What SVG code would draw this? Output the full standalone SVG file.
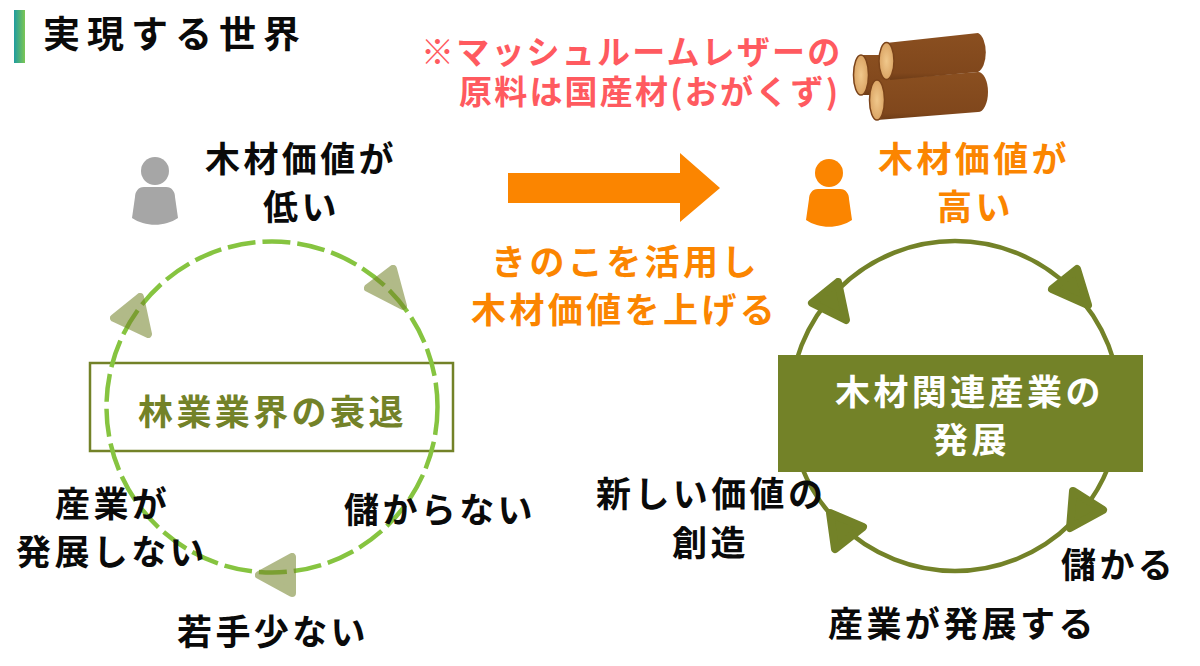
<svg xmlns="http://www.w3.org/2000/svg" width="1200" height="666" viewBox="0 0 1200 666">
<defs>
<linearGradient id="bar" x1="0" y1="0" x2="1" y2="0"><stop offset="0" stop-color="#1f9ca0"/><stop offset="1" stop-color="#7cc653"/></linearGradient>
<linearGradient id="bark" x1="0" y1="0" x2="0" y2="1"><stop offset="0" stop-color="#8a4f20"/><stop offset=".85" stop-color="#80471c"/><stop offset="1" stop-color="#6e3c17"/></linearGradient>
<radialGradient id="face"><stop offset="0" stop-color="#f0c88c"/><stop offset="1" stop-color="#dba565"/></radialGradient>
</defs>
<style>
text{font-family:"Noto Sans CJK JP","Noto Sans",sans-serif;font-weight:700;font-size:35px;letter-spacing:3.4px;fill:#0a0a0a}
.org{fill:#fb8500}.ol{fill:#738228}.wh{fill:#fff}.red{fill:#ff5a5f;letter-spacing:2.2px;font-size:33px}
.tl{stroke-linejoin:round;stroke-width:8;fill:#738228;stroke:#738228}
.tf{stroke-linejoin:round;stroke-width:8;fill:#738228;stroke:#738228;opacity:.55}
.log{fill:url(#bark)}
.end{fill:url(#face);stroke:#7a431a;stroke-width:1.500}
</style>
<rect width="1200" height="666" fill="#fff"/>
<g id="title-bar"><rect x="14" y="10" width="11" height="53" fill="url(#bar)"/></g>
<g id="title"><text x="43" y="48" style="font-size:37px;letter-spacing:7px">実現する世界</text></g>
<g id="note">
<text class="red" x="421" y="64">※マッシュルームレザーの</text>
<text class="red" x="459" y="104">原料は国産材(おがくず)</text>
</g>
<g id="logs">
<path class="log" d="M861 55 L900 55 L900 95 L861 95Z"/>
<ellipse class="end" cx="861" cy="75" rx="7.500" ry="20"/>
<path class="log" d="M877 80 L978 72 A10 20 0 0 1 978 112 L877 120Z"/>
<ellipse class="end" cx="877" cy="100" rx="7.500" ry="20"/>
<path class="log" d="M886 43 L978 33 A10 20 0 0 1 978 72 L890 80Z"/>
<ellipse class="end" cx="886.500" cy="61" rx="7.500" ry="18.500"/>
</g>
<g id="person-gray" fill="#a6a6a6">
<circle cx="155" cy="171" r="14"/>
<path d="M144 187H166C172 187 175 192 175 197L178 218C165 227 145 227 132 218L135 197C135 192 138 187 144 187Z"/>
</g>
<g id="label-low">
<text x="205" y="172">木材価値が</text>
<text x="263" y="220">低い</text>
</g>
<g id="arrow-main"><polygon points="508,173 680,173 680,153 720,188 680,222 680,203 508,203" fill="#fb8500"/></g>
<g id="label-center">
<text class="org" x="491" y="275">きのこを活用し</text>
<text class="org" x="471" y="323">木材価値を上げる</text>
</g>
<g id="person-orange" fill="#fb8500">
<circle cx="829" cy="173" r="14"/>
<path d="M818 189H840C846 189 849 194 849 199L852 220C839 229 819 229 806 220L809 199C809 194 812 189 818 189Z"/>
</g>
<g id="label-high">
<text class="org" x="878" y="172">木材価値が</text>
<text class="org" x="937" y="220">高い</text>
</g>
<g id="box-decline">
<rect x="90" y="363" width="363" height="88" fill="none" stroke="#738228" stroke-width="2.500"/>
<text class="ol" x="138" y="425">林業業界の衰退</text>
</g>
<g id="connectors-left">
<circle cx="272" cy="407" r="165.500" fill="none" stroke="#86c440" stroke-width="4.500" stroke-dasharray="28 7"/>
<polygon class="tf" points="393,269 403,306 368,288"/>
<polygon class="tf" points="140,297 114,318 148,334"/>
<polygon class="tf" points="292,557 292,593 259,575"/>
</g>
<g id="connectors-right">
<circle cx="955" cy="406" r="165" fill="none" stroke="#738228" stroke-width="4.500"/>
<polygon class="tl" points="1077,269 1088,305 1052,289"/>
<polygon class="tl" points="838,282 812,303 846,320"/>
<polygon class="tl" points="1073,491 1103,510 1070,528"/>
<polygon class="tl" points="830,513 863,527 835,549"/>
</g>
<g id="box-develop">
<rect x="778" y="355" width="365" height="117" fill="#738228"/>
<text class="wh" x="835" y="405">木材関連産業の</text>
<text class="wh" x="933" y="453">発展</text>
</g>
<g id="labels-left">
<text x="344" y="523">儲からない</text>
<text x="55" y="517">産業が</text>
<text x="16" y="565">発展しない</text>
<text x="177" y="645">若手少ない</text>
</g>
<g id="labels-right">
<text x="596" y="507">新しい価値の</text>
<text x="672" y="556">創造</text>
<text x="1061" y="578">儲かる</text>
<text x="828" y="637">産業が発展する</text>
</g>
</svg>
